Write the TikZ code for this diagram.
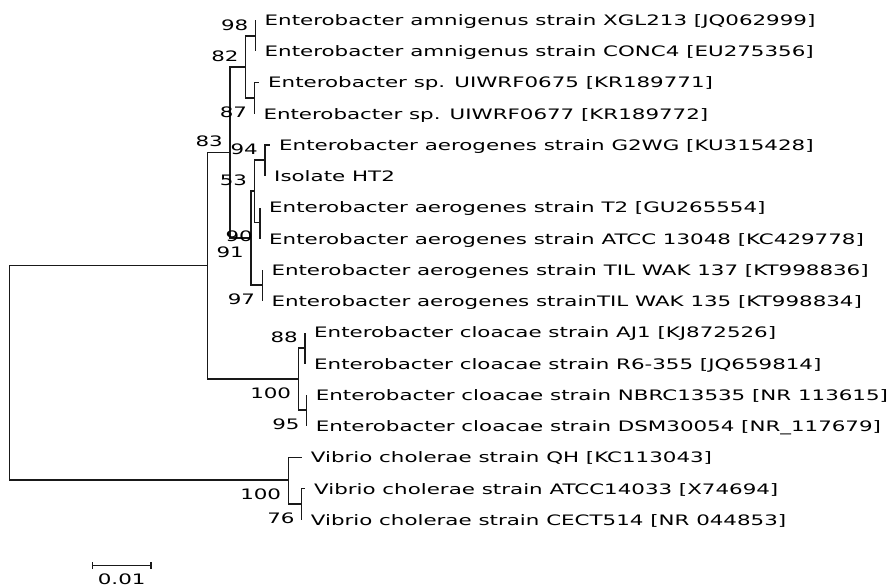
\documentclass[tikz,border=0pt]{standalone}
\usepackage{fontspec}
\setmainfont{DejaVu Sans}[FakeStretch=1.485]
\usetikzlibrary{arrows.meta, calc}

\tikzset{
    branch/.style={line width=1.3pt, draw=black!90},
    leaf/.style={anchor=base west, inner sep=0pt, font=\fontsize{14.4}{17}\selectfont},
    boot/.style={anchor=base east, inner sep=0pt, font=\fontsize{14.4}{17}\selectfont},
}

\begin{document}
\begin{tikzpicture}[x=1pt, y=-1pt]
    \useasboundingbox (0,0) rectangle (889,587);

    % leaf tips and names
    \foreach \i/\x/\txt in {
        1/255.5/{Enterobacter amnigenus strain XGL213 [JQ062999]},
        2/255.5/{Enterobacter amnigenus strain CONC4 [EU275356]},
        3/259/{Enterobacter sp. UIWRF0675 [KR189771]},
        4/254.3/{Enterobacter sp. UIWRF0677 [KR189772]},
        5/270/{Enterobacter aerogenes strain G2WG [KU315428]},
        6/265/{Isolate HT2},
        7/260/{Enterobacter aerogenes strain T2 [GU265554]},
        8/260/{Enterobacter aerogenes strain ATCC 13048 [KC429778]},
        9/262.3/{Enterobacter aerogenes strain TIL WAK 137 [KT998836]},
        10/262.3/{Enterobacter aerogenes strainTIL WAK 135 [KT998834]},
        11/305/{Enterobacter cloacae strain AJ1 [KJ872526]},
        12/305/{Enterobacter cloacae strain R6-355 [JQ659814]},
        13/306.7/{Enterobacter cloacae strain NBRC13535 [NR 113615]},
        14/306.7/{Enterobacter cloacae strain DSM30054 [NR\_117679]},
        15/301.7/{Vibrio cholerae strain QH [KC113043]},
        16/305/{Vibrio cholerae strain ATCC14033 [X74694]},
        17/301.7/{Vibrio cholerae strain CECT514 [NR 044853]}} {
        \coordinate (t\i) at (\x, {20+31.25*(\i-1)});
        \node[leaf] (l\i) at ($(t\i)+(9,5.3)$) {\txt};
    }

    % internal nodes
    \coordinate (n98) at (255.5,36);
    \coordinate (n87) at (254.3,98);
    \coordinate (n82) at (245.7,67);
    \coordinate (n94) at (265,160);
    \coordinate (n90) at (260,222.5);
    \coordinate (n53) at (254.3,191);
    \coordinate (n97) at (262.3,285);
    \coordinate (n91) at (251,238);
    \coordinate (n83) at (230,152.7);
    \coordinate (n88) at (305,348);
    \coordinate (n95) at (306.7,410);
    \coordinate (ncl) at (298.3,379);
    \coordinate (nent) at (207.3,265.7);
    \coordinate (n76) at (301.7,504);
    \coordinate (nvib) at (288.3,480);
    \coordinate (root) at (9.3,372.5);

    % branches
    \foreach \p/\c in {n98/t1, n98/t2, n87/t3, n87/t4, n82/n98, n82/n87,
        n94/t5, n94/t6, n90/t7, n90/t8, n53/n94, n53/n90, n97/t9, n97/t10,
        n91/n53, n91/n97, n83/n82, n83/n91, n88/t11, n88/t12, n95/t13, n95/t14,
        ncl/n88, ncl/n95, nent/n83, nent/ncl, n76/t16, n76/t17,
        nvib/t15, nvib/n76, root/nent, root/nvib}
        \draw[branch] (\p) |- (\c);

    % bootstrap values
    \foreach \n/\v in {n98/98, n82/82, n83/83, n94/94, n53/53, n88/88}
        \node[boot] (b-\n) at ($(\n)+(-7,-5.75)$) {\v};
    \foreach \n/\v in {n87/87, n90/90, n91/91, n97/97, ncl/100, n95/95, nvib/100, n76/76}
        \node[boot] (b-\n) at ($(\n)+(-7,19.25)$) {\v};

    % scale bar
    \coordinate (sbl) at (91.7,565.7);
    \coordinate (sbr) at (151.7,565.7);
    \draw[branch, {Bar[width=7pt]}-{Bar[width=7pt]}] (sbl) -- (sbr);
    \node[leaf, anchor=base] (sblabel) at ($(sbl)!0.5!(sbr)+(0,18.3)$) {0.01};
\end{tikzpicture}
\end{document}
